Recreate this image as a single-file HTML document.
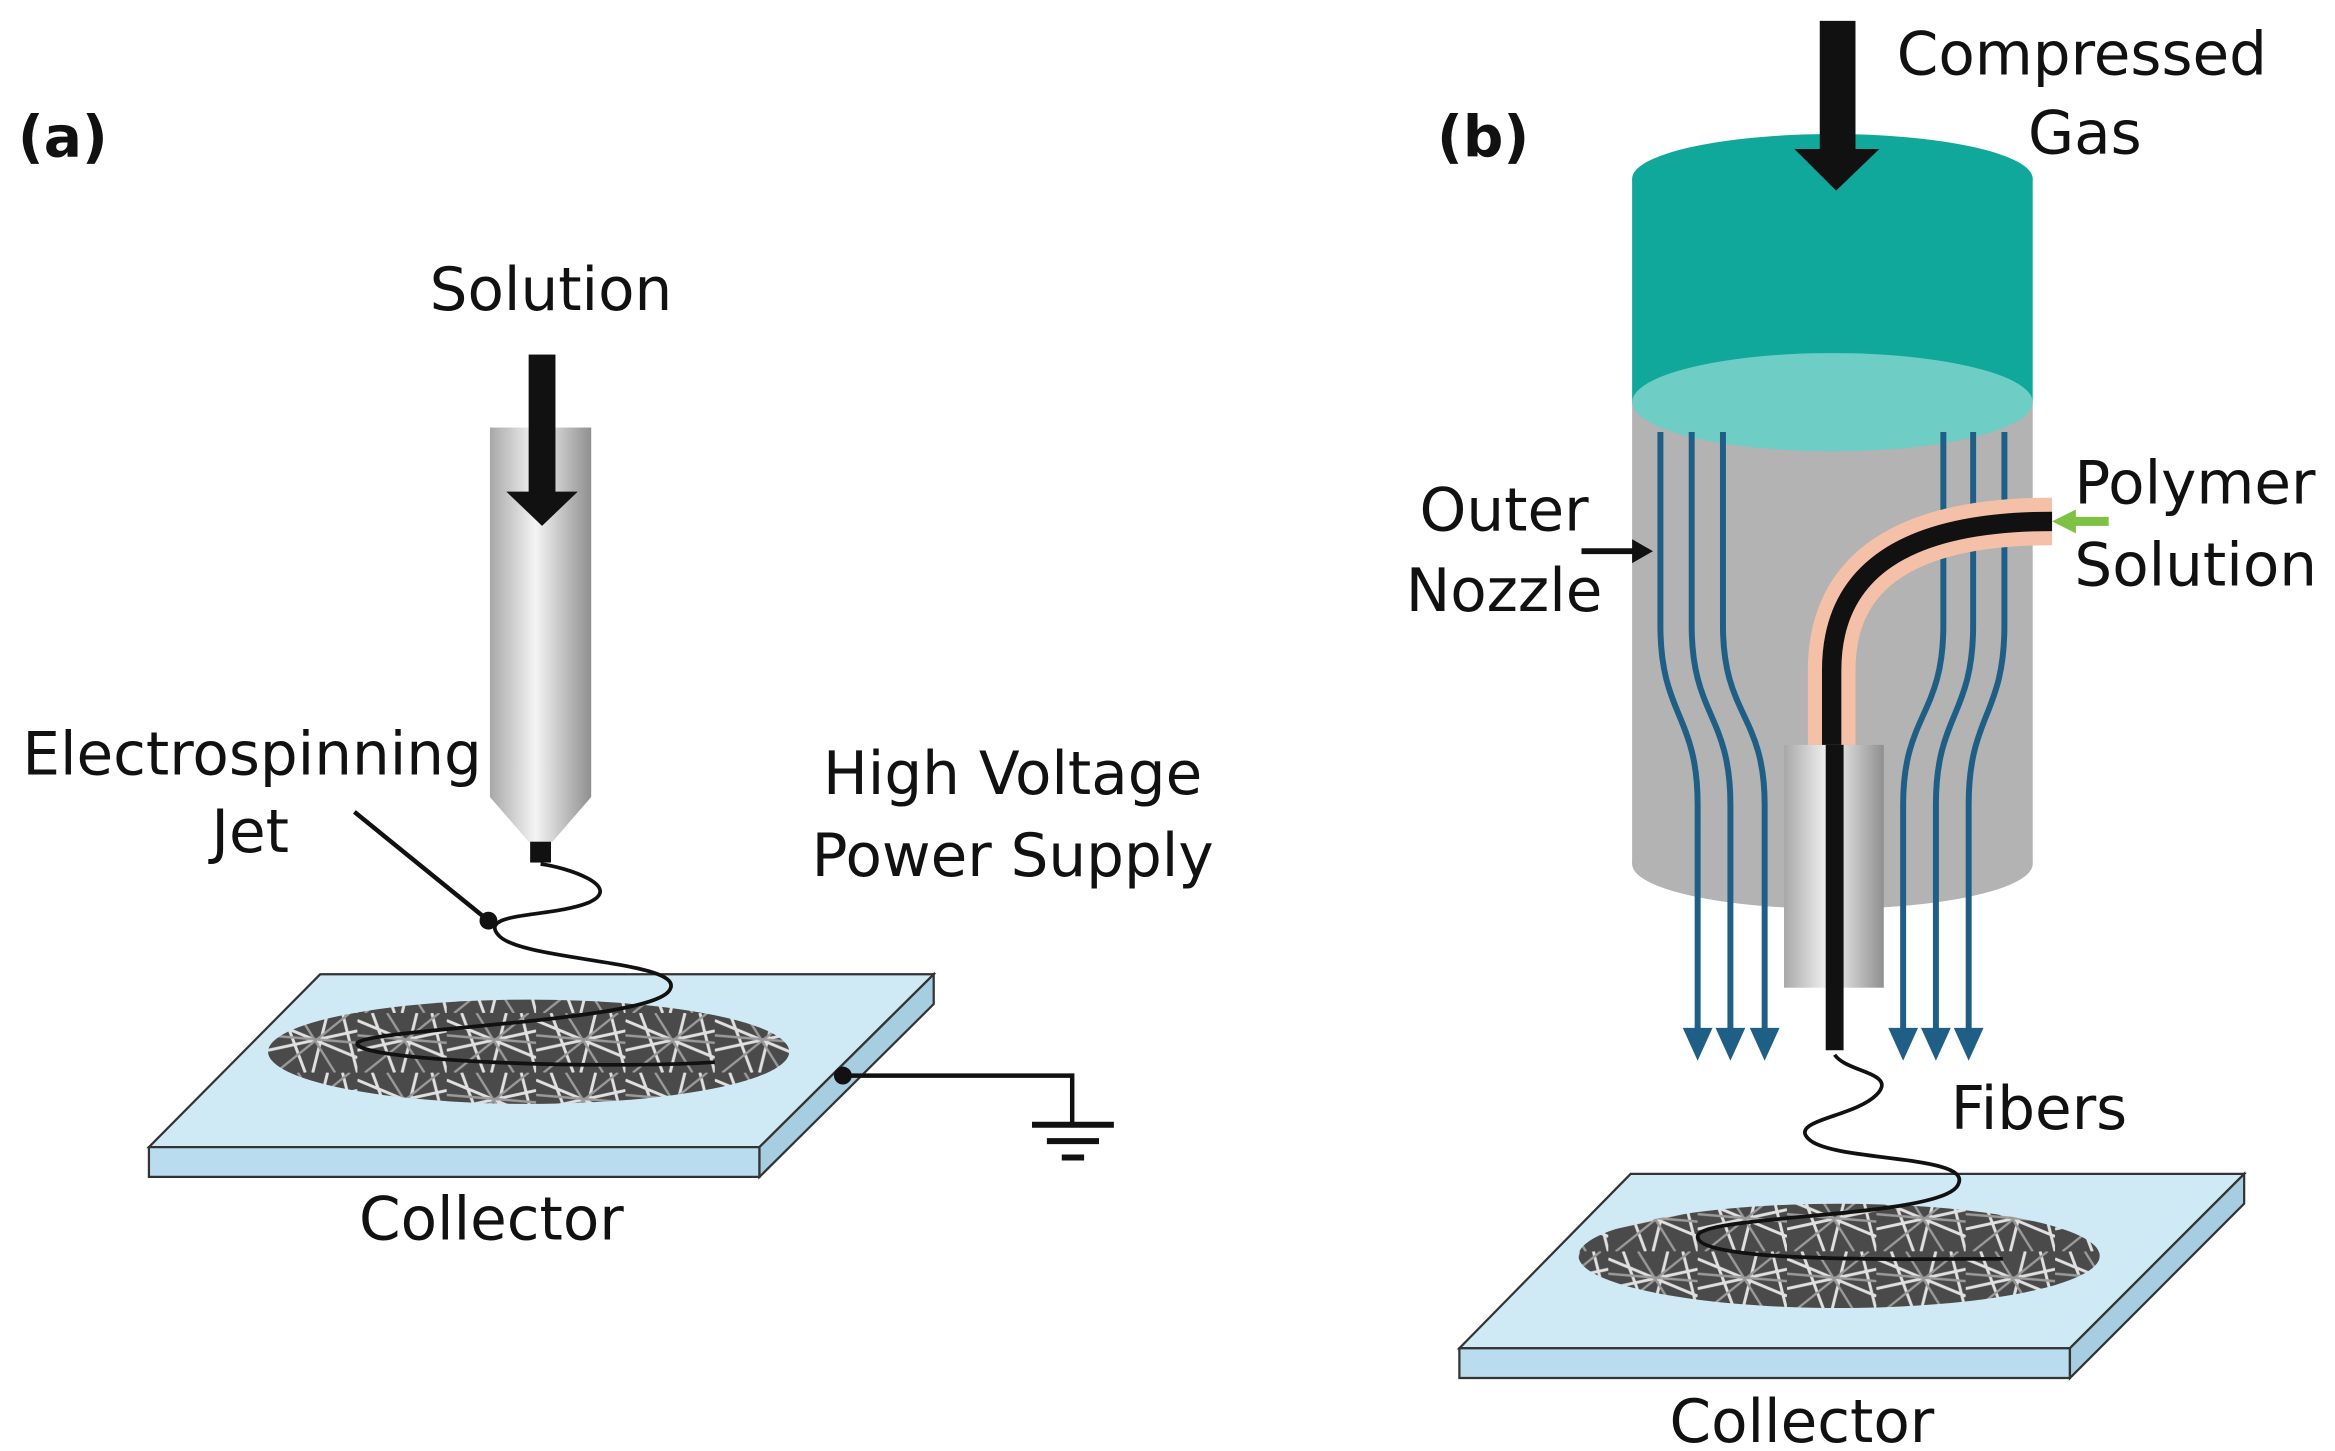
<!DOCTYPE html>
<html><head><meta charset="utf-8"><style>
html,body{margin:0;padding:0;background:#fff;}
svg{display:block;}
text{font-family:"DejaVu Sans","Liberation Sans",sans-serif;fill:#111;}
</style></head><body>
<svg width="2335" height="1451" viewBox="0 0 1568 974" preserveAspectRatio="none" xmlns="http://www.w3.org/2000/svg">
<defs>
<linearGradient id="metal" x1="0" x2="1" y1="0" y2="0">
<stop offset="0" stop-color="#a8a8a8"/><stop offset="0.45" stop-color="#f4f4f4"/><stop offset="1" stop-color="#8f8f8f"/>
</linearGradient>
<pattern id="fib" width="60" height="40" patternUnits="userSpaceOnUse">
<rect width="60" height="40" fill="#4a4a4a"/>
<path d="M0 5 L60 30 M10 0 L25 40 M40 0 L30 40 M0 25 L60 12 M50 0 L60 40" stroke="#e0e0e0" stroke-width="2" fill="none"/>
<path d="M0 15 L60 20 M20 0 L45 40 M5 40 L55 0" stroke="#9a9a9a" stroke-width="1.6" fill="none"/>
</pattern>
</defs>
<rect width="1568" height="974" fill="#fff"/>

<!-- Panel a -->
<text x="12" y="105" font-size="38" font-weight="bold">(a)</text>
<text x="370" y="208" font-size="40" text-anchor="middle">Solution</text>
<rect x="329" y="287" width="68" height="248" fill="url(#metal)"/>
<polygon points="329,535 397,535 371,565 355,565" fill="url(#metal)"/>
<rect x="356" y="565" width="14" height="14" fill="#111"/>
<rect x="355" y="238" width="18" height="94" fill="#111"/>
<polygon points="340,330 388,330 364,353" fill="#111"/>

<polygon points="215,654 627,654 510,770 100,770" fill="#cfe9f5" stroke="#333" stroke-width="1.5"/>
<polygon points="100,770 510,770 510,790 100,790" fill="#b9dcef" stroke="#333" stroke-width="1.5"/>
<polygon points="510,770 627,654 627,674 510,790" fill="#a6cde0" stroke="#333" stroke-width="1.5"/>
<ellipse cx="355" cy="706" rx="175" ry="35" fill="url(#fib)"/>
<path d="M363,580 C380,582 420,595 395,606 C370,616 320,612 335,628 C350,645 460,645 450,664 C440,686 250,690 240,700 C235,712 400,718 480,713" fill="none" stroke="#111" stroke-width="2.5"/>
<line x1="238" y1="545" x2="328" y2="618" stroke="#111" stroke-width="3"/>
<circle cx="328" cy="618" r="6" fill="#111"/>
<text x="15" y="520" font-size="40">Electrospinning</text>
<text x="168" y="572" font-size="40" text-anchor="middle">Jet</text>
<text x="680" y="533" font-size="40" text-anchor="middle">High Voltage</text>
<text x="680" y="588" font-size="40" text-anchor="middle">Power Supply</text>
<circle cx="566" cy="722" r="6" fill="#111"/>
<polyline points="566,722 720,722 720,755" fill="none" stroke="#111" stroke-width="3"/>
<line x1="693" y1="755" x2="748" y2="755" stroke="#111" stroke-width="4"/>
<line x1="703" y1="766" x2="738" y2="766" stroke="#111" stroke-width="4"/>
<line x1="713" y1="777" x2="728" y2="777" stroke="#111" stroke-width="4"/>
<text x="330" y="832" font-size="40" text-anchor="middle">Collector</text>

<!-- Panel b -->
<text x="965" y="105" font-size="38" font-weight="bold">(b)</text>
<rect x="1096" y="270" width="269" height="310" fill="#b3b3b3"/>
<ellipse cx="1230.5" cy="580" rx="134.5" ry="30" fill="#b3b3b3"/>
<rect x="1096" y="120" width="269" height="150" fill="#10a89a"/>
<ellipse cx="1230.5" cy="120" rx="134.5" ry="30" fill="#10a89a"/>
<ellipse cx="1230.5" cy="270" rx="134.5" ry="33" fill="#6ecdc4"/>
<rect x="1222" y="14" width="24" height="88" fill="#111"/>
<polygon points="1205,100 1262,100 1233,128" fill="#111"/>
<text x="1398" y="50" font-size="40" text-anchor="middle">Compressed</text>
<text x="1400" y="103" font-size="40" text-anchor="middle">Gas</text>

<g fill="none" stroke="#1f5f86" stroke-width="4">
<path d="M1115,290 L1115,420 C1115,480 1140,480 1140,540 L1140,695"/>
<path d="M1136,290 L1136,420 C1136,480 1162,480 1162,540 L1162,695"/>
<path d="M1157,290 L1157,420 C1157,480 1185,480 1185,540 L1185,695"/>
<path d="M1305,290 L1305,420 C1305,480 1278,480 1278,540 L1278,695"/>
<path d="M1325,290 L1325,420 C1325,480 1300,480 1300,540 L1300,695"/>
<path d="M1346,290 L1346,420 C1346,480 1322,480 1322,540 L1322,695"/>
</g>
<g fill="#1f5f86">
<polygon points="1130,690 1150,690 1140,712"/><polygon points="1152,690 1172,690 1162,712"/><polygon points="1175,690 1195,690 1185,712"/>
<polygon points="1268,690 1288,690 1278,712"/><polygon points="1290,690 1310,690 1300,712"/><polygon points="1312,690 1332,690 1322,712"/>
</g>
<rect x="1198" y="500" width="67" height="163" fill="url(#metal)"/>
<path d="M1230,500 L1230,450 Q1230,350 1378,350" fill="none" stroke="#f5c0a8" stroke-width="32"/>
<path d="M1230,500 L1230,450 Q1230,350 1378,350" fill="none" stroke="#111" stroke-width="13"/>
<line x1="1232" y1="500" x2="1232" y2="705" stroke="#111" stroke-width="12"/>
<line x1="1416" y1="350" x2="1392" y2="350" stroke="#7dc242" stroke-width="6"/>
<polygon points="1378,350 1394,342 1394,358" fill="#7dc242"/>
<line x1="1062" y1="370" x2="1098" y2="370" stroke="#111" stroke-width="4"/>
<polygon points="1110,370 1096,362 1096,378" fill="#111"/>
<text x="1010" y="356" font-size="40" text-anchor="middle">Outer</text>
<text x="1010" y="410" font-size="40" text-anchor="middle">Nozzle</text>
<text x="1393" y="338" font-size="40">Polymer</text>
<text x="1393" y="393" font-size="40">Solution</text>

<polygon points="1095,788 1507,788 1390,905 980,905" fill="#cfe9f5" stroke="#333" stroke-width="1.5"/>
<polygon points="980,905 1390,905 1390,925 980,925" fill="#b9dcef" stroke="#333" stroke-width="1.5"/>
<polygon points="1390,905 1507,788 1507,808 1390,925" fill="#a6cde0" stroke="#333" stroke-width="1.5"/>
<ellipse cx="1235" cy="843" rx="175" ry="35" fill="url(#fib)"/>
<path d="M1232,708 C1240,720 1275,720 1260,735 C1245,750 1200,752 1215,765 C1232,780 1325,775 1315,795 C1305,818 1140,815 1140,830 C1140,848 1280,845 1345,845" fill="none" stroke="#111" stroke-width="2.5"/>
<text x="1310" y="758" font-size="40">Fibers</text>
<text x="1210" y="968" font-size="40" text-anchor="middle">Collector</text>
</svg>
</body></html>
